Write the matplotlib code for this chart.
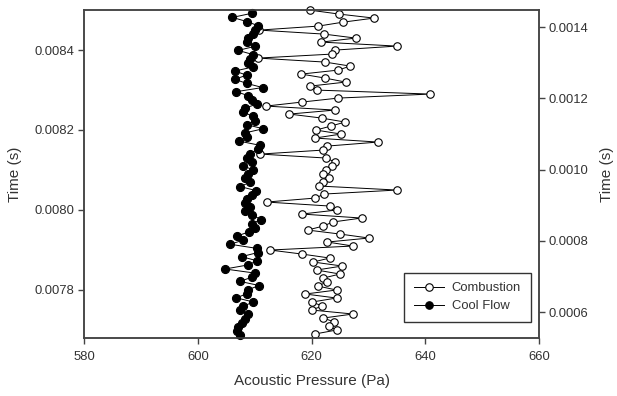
import numpy as np
import matplotlib
matplotlib.use("Agg")
import matplotlib.pyplot as plt
from matplotlib.lines import Line2D

plt.rcParams['font.family'] = ['Liberation Sans', 'DejaVu Sans']

# Acoustic pressure (Pa), listed from latest sample to earliest
combustion_pa = [
    619.7, 624.9, 631.0, 625.6, 621.2, 610.8, 622.2, 627.8, 621.7, 635.0,
    624.1, 623.6, 610.6, 622.4, 626.8, 624.7, 618.2, 622.4, 626.0, 619.8,
    620.9, 640.9, 624.7, 618.3, 612.0, 624.1, 616.1, 621.8, 625.9, 623.4,
    620.8, 625.2, 620.6, 631.7, 622.8, 622.1, 611.0, 622.6, 624.1, 623.6,
    622.6, 622.1, 623.1, 622.1, 621.4, 635.0, 622.2, 620.7, 612.1, 623.2,
    624.4, 618.3, 628.8, 623.7, 622.1, 619.3, 625.0, 630.1, 622.8, 627.3,
    612.7, 618.3, 623.2, 620.3, 625.4, 620.9, 625.0, 622.1, 622.7, 621.1,
    624.4, 618.9, 624.4, 620.1, 621.9, 620.0, 627.3, 622.1, 624.0, 623.1,
    624.4, 620.6,
]
cool_flow_pa = [
    609.5, 606.1, 608.6, 610.6, 610.1, 609.8, 608.9, 608.6, 610.1, 607.1,
    609.7, 609.2, 608.9, 609.8, 606.5, 608.6, 606.5, 608.6, 611.4, 606.8,
    608.9, 609.5, 610.4, 608.3, 608.0, 609.8, 610.1, 608.6, 611.5, 608.3,
    608.6, 607.3, 610.9, 610.6, 609.2, 608.6, 609.5, 608.0, 609.8, 608.9,
    608.3, 609.2, 607.4, 610.3, 609.5, 608.7, 608.3, 609.2, 608.3, 609.6,
    611.2, 609.5, 610.1, 609.0, 606.9, 608.0, 605.7, 610.4, 610.6, 607.7,
    610.4, 608.9, 604.8, 610.1, 609.5, 607.4, 610.8, 608.9, 608.6, 606.8,
    609.8, 608.0, 607.4, 608.9, 608.3, 607.7, 607.0, 606.9, 607.4,
]

# Sampling windows (s)
combustion_t_first, combustion_t_last = 0.0005382, 0.0014477
cool_t_first, cool_t_last = 0.0076875, 0.0084918

combustion_t = np.linspace(combustion_t_last, combustion_t_first, len(combustion_pa))
cool_t = np.linspace(cool_t_last, cool_t_first, len(cool_flow_pa))

x_ticks = [580, 600, 620, 640, 660]
left_ticks = [0.0078, 0.0080, 0.0082, 0.0084]
right_ticks = [0.0006, 0.0008, 0.0010, 0.0012, 0.0014]

text_color = '#333333'
spine_color = '#444444'

fig = plt.figure(figsize=(6.17, 3.96), dpi=100)
ax = fig.add_axes([84 / 617, 1 - 338 / 396, 455 / 617, 328 / 396])
ax2 = ax.twinx()

ax2.plot(combustion_pa, combustion_t, color='black', lw=0.7, marker='o',
         ms=5.4, mfc='white', mec='black', mew=0.8, clip_on=False)
ax.plot(cool_flow_pa, cool_t, color='black', lw=0.7, marker='o',
        ms=5.8, mfc='black', mec='black', mew=0.8, clip_on=False)

ax.set_zorder(ax2.get_zorder() + 1)
ax.patch.set_visible(False)

ax.set_xlim(580, 660)
ax.set_ylim(0.00768, 0.0085)
ax2.set_ylim(0.000527, 0.001448)

ax.set_xticks(x_ticks)
ax.set_xticklabels([str(v) for v in x_ticks])
ax.set_yticks(left_ticks)
ax.set_yticklabels([f"{v:.4f}" for v in left_ticks])
ax2.set_yticks(right_ticks)
ax2.set_yticklabels([f"{v:.4f}" for v in right_ticks])

for a in (ax, ax2):
    for s in a.spines.values():
        s.set_color(spine_color)
        s.set_linewidth(1.1)
    a.tick_params(direction='out', length=4, width=1.0, color=spine_color,
                  labelsize=9.4, labelcolor=text_color, pad=3)
ax.tick_params(axis='x', pad=5)

ax.set_xlabel('Acoustic Pressure (Pa)', fontsize=11, color=text_color, labelpad=8)
ax.set_ylabel('Time (s)', fontsize=11, color=text_color, labelpad=9)
ax2.set_ylabel('Time (s)', fontsize=11, color=text_color, labelpad=8)

handles = [
    Line2D([], [], color='black', lw=0.7, marker='o', ms=5.4, mfc='white', mec='black', mew=0.8),
    Line2D([], [], color='black', lw=0.7, marker='o', ms=5.4, mfc='black', mec='black', mew=0.8),
]
leg = ax.legend(handles, ['Combustion', 'Cool Flow'], loc='lower right',
                bbox_to_anchor=(0.982, 0.048), borderaxespad=0, fontsize=9.4,
                fancybox=False, framealpha=1, edgecolor='#333333',
                handlelength=2.3, handletextpad=0.6, borderpad=0.75,
                labelspacing=0.45)
leg.get_frame().set_linewidth(1.0)
for t in leg.get_texts():
    t.set_color(text_color)

fig.savefig('out.png', dpi=100)
